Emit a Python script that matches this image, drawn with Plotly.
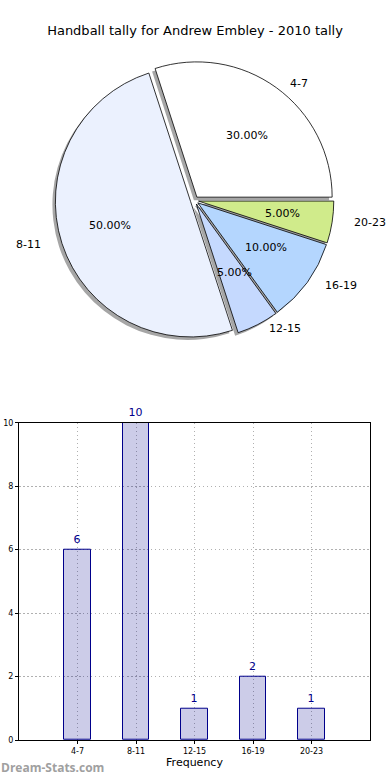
import math
import plotly.graph_objects as go

# ---- data ----
categories = ["4-7", "8-11", "12-15", "16-19", "20-23"]
counts = [6, 10, 1, 2, 1]
pie_colors = ["#ffffff", "#ebf1fe", "#c5d9fe", "#b4d6fe", "#d0eb8b"]
pulls = [0.03, 0.03, 0.03, 0.03, 0.03]
y_ticks = [0, 2, 4, 6, 8, 10]
title_text = "Handball tally for Andrew Embley - 2010 tally"

W, H = 390, 780
ML, MR, MT, MB = 19, 20, 0, 40
PW, PH = W - ML - MR, H - MT - MB

def px2x(px):
    return (px - ML) / PW

def py2y(py):
    return (H - MB - py) / PH

# pie geometry (pixel space)
cx, cy = 194.5, 197.5
r = 136
maxpull = max(pulls)
half = r * (1 + maxpull)
pie_dom_x = [px2x(cx - half), px2x(cx + half)]
pie_dom_y = [py2y(cy + half), py2y(cy - half)]
sh = 3  # shadow offset
shadow_dom_x = [px2x(cx - half - sh), px2x(cx + half - sh)]
shadow_dom_y = [py2y(cy + half + sh), py2y(cy - half + sh)]

# first slice should start at 3 o'clock and run counterclockwise
first_deg = counts[0] / sum(counts) * 360
rot = 90 - first_deg

fig = go.Figure()

fig.add_trace(go.Pie(
    labels=categories, values=counts, sort=False, direction="counterclockwise",
    rotation=rot, pull=pulls, textinfo="none", hoverinfo="skip",
    marker=dict(colors=["#a6a6a6"] * len(counts), line=dict(width=0)),
    domain=dict(x=shadow_dom_x, y=shadow_dom_y), showlegend=False,
))
fig.add_trace(go.Pie(
    labels=categories, values=counts, sort=False, direction="counterclockwise",
    rotation=rot, pull=pulls, textinfo="none",
    marker=dict(colors=pie_colors, line=dict(color="black", width=0.8)),
    domain=dict(x=pie_dom_x, y=pie_dom_y), showlegend=False,
))

fig.add_trace(go.Bar(
    x=categories, y=counts, width=0.45,
    marker=dict(color="rgba(0,0,139,0.2)", line=dict(color="#00008b", width=1)),
    text=[str(v) for v in counts], textposition="outside",
    textfont=dict(color="#00008b", size=11, family="DejaVu Sans"),
    cliponaxis=False, showlegend=False,
))

# pie labels and percentages computed from the data angles
total = sum(counts)
rx_t, ry_t = 141, 128
annotations = []
start = 0.0
for lab, v, p in zip(categories, counts, pulls):
    frac = v / total
    mid = math.radians((start + frac / 2) * 360)
    ox = cx + p * r * math.cos(mid)
    oy = cy - p * r * math.sin(mid)
    lx = ox + 1.1 * rx_t * math.cos(mid)
    ly = oy - 1.1 * ry_t * math.sin(mid)
    annotations.append(dict(
        x=px2x(lx), y=py2y(ly), xref="paper", yref="paper", text=lab, showarrow=False,
        xanchor="left" if math.cos(mid) > 0 else "right", yanchor="middle",
        font=dict(size=11, color="black", family="DejaVu Sans"),
    ))
    tx = ox + 0.6 * rx_t * math.cos(mid)
    ty = oy - 0.6 * ry_t * math.sin(mid)
    annotations.append(dict(
        x=px2x(tx), y=py2y(ty), xref="paper", yref="paper", text=f"{frac*100:.2f}%",
        showarrow=False, xanchor="center", yanchor="middle",
        font=dict(size=11, color="black", family="DejaVu Sans"),
    ))
    start += frac

annotations.append(dict(
    x=0, y=0, xref="paper", yref="paper", yshift=-MB + 2, xshift=-ML - 1,
    text="<b>Dream-Stats.com</b>", showarrow=False,
    xanchor="left", yanchor="bottom",
    font=dict(size=12, color="#a0a0a0", family="Open Sans"),
))
annotations.append(dict(
    x=px2x(-6), y=py2y(580), xref="paper", yref="paper", text="Total Tally",
    textangle=-90, showarrow=False, xanchor="center", yanchor="middle",
    font=dict(size=10, color="black", family="DejaVu Sans"),
))

grid_dash = "1.5px,2.5px"
fig.update_layout(
    width=W, height=H,
    margin=dict(l=ML, r=MR, t=MT, b=MB),
    paper_bgcolor="white", plot_bgcolor="white",
    title=dict(text=title_text, x=0.5, xanchor="center", xref="container",
               y=1 - 30 / H, yanchor="middle", yref="container",
               font=dict(size=13, color="black", family="DejaVu Sans")),
    font=dict(family="DejaVu Sans", color="black"),
    annotations=annotations,
    bargap=0,
    xaxis=dict(
        domain=[0, 1], range=[-1, 5], type="category",
        showline=True, linecolor="black", linewidth=1, mirror=True,
        showgrid=True, gridcolor="#b0b0b0", griddash=grid_dash, gridwidth=1,
        ticks="outside", ticklen=3, tickcolor="black",
        tickfont=dict(size=8, color="black"),
        title=dict(text="Frequency", font=dict(size=11, color="black"), standoff=2),
        zeroline=False, fixedrange=True,
    ),
    yaxis=dict(
        domain=[0, py2y(421)], range=[0, 10], tickvals=y_ticks,
        showline=True, linecolor="black", linewidth=1, mirror=True,
        showgrid=True, gridcolor="#b0b0b0", griddash=grid_dash, gridwidth=1,
        ticks="outside", ticklen=3, tickcolor="black",
        tickfont=dict(size=8, color="black"), zeroline=False, fixedrange=True,
    ),
)

fig.write_html(
    "out.html",
    config={"displayModeBar": False},
    post_script="document.body.style.margin='0';document.body.style.padding='0';",
)
